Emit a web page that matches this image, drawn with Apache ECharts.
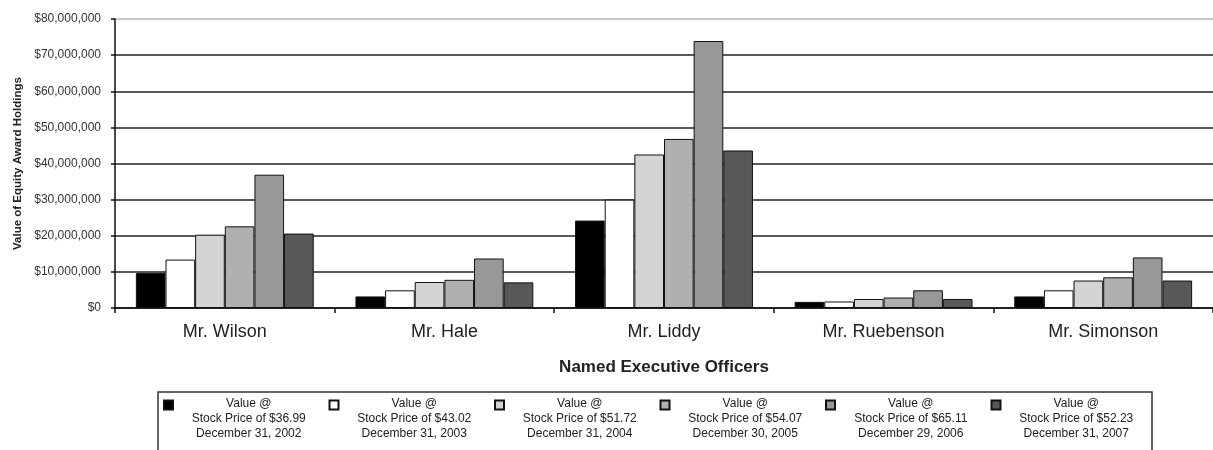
<!DOCTYPE html>
<html>
<head>
<meta charset="utf-8">
<script src="https://cdn.jsdelivr.net/npm/echarts@6/dist/echarts.min.js"></script>
<style>
html,body{margin:0;padding:0;background:#fff;}
#chart{width:1213px;height:450px;}
</style>
</head>
<body>
<div id="chart"></div>
<script>
var categories = ['Mr. Wilson', 'Mr. Hale', 'Mr. Liddy', 'Mr. Ruebenson', 'Mr. Simonson'];
var seriesNames = [
  'Value @\nStock Price of $36.99\nDecember 31, 2002',
  'Value @\nStock Price of $43.02\nDecember 31, 2003',
  'Value @\nStock Price of $51.72\nDecember 31, 2004',
  'Value @\nStock Price of $54.07\nDecember 30, 2005',
  'Value @\nStock Price of $65.11\nDecember 29, 2006',
  'Value @\nStock Price of $52.23\nDecember 31, 2007'
];
var v2002 = [9700000, 3200000, 24200000, 1700000, 3200000];
var v2003 = [13400000, 4900000, 30000000, 1800000, 4900000];
var v2004 = [20300000, 7200000, 42500000, 2500000, 7600000];
var v2005 = [22600000, 7800000, 46800000, 2900000, 8500000];
var v2006 = [36900000, 13700000, 73900000, 4900000, 14000000];
var v2007 = [20600000, 7100000, 43600000, 2500000, 7600000];
var yTicks = [0, 10000000, 20000000, 30000000, 40000000, 50000000, 60000000, 70000000, 80000000];

var allValues = [v2002, v2003, v2004, v2005, v2006, v2007];
var colors = ['#000000', '#ffffff', '#d4d4d4', '#b0b0b0', '#989898', '#585858'];

var chart = echarts.init(document.getElementById('chart'));
var series = allValues.map(function (vals, i) {
  return {
    name: seriesNames[i],
    type: 'bar',
    data: vals,
    barGap: '0%',
    barCategoryGap: '19%',
    itemStyle: { color: colors[i], borderColor: '#111', borderWidth: 1 },
    emphasis: { disabled: true }
  };
});

var gridColors = yTicks.map(function (t, i) { return i === yTicks.length - 1 ? '#b5b5b5' : '#222'; });

chart.setOption({
  animation: false,
  textStyle: { fontFamily: 'Liberation Sans, Arial, sans-serif' },
  grid: { left: 115, top: 19, height: 289, width: 1110 },
  legend: {
    left: 158,
    top: 392,
    orient: 'horizontal',
    padding: [4, 5, 14, 5],
    borderColor: '#333',
    borderWidth: 1.5,
    itemWidth: 9,
    itemHeight: 36,
    itemGap: 9,
    icon: 'path://M0,0H10V10H0Z M10,40',
    selectedMode: false,
    data: seriesNames,
    formatter: function (name) {
      return name.split('\n').map(function (l) { return '{c|' + l + '}'; }).join('\n');
    },
    textStyle: {
      color: '#222',
      fontSize: 12,
      lineHeight: 15,
      rich: { c: { width: 141.5, align: 'center', fontSize: 12, lineHeight: 15, color: '#222' } }
    }
  },
  xAxis: {
    type: 'category',
    data: categories,
    name: 'Named Executive Officers',
    nameLocation: 'middle',
    nameGap: 51,
    nameTextStyle: { fontSize: 17, fontWeight: 'bold', color: '#222' },
    axisLine: { lineStyle: { color: '#111', width: 1.5 } },
    axisTick: { show: true, length: 5, lineStyle: { color: '#111', width: 1.5 } },
    axisLabel: { fontSize: 18, color: '#222', margin: 15 }
  },
  yAxis: {
    type: 'value',
    min: 0,
    max: 80000000,
    interval: 10000000,
    name: 'Value of Equity Award Holdings',
    nameLocation: 'middle',
    nameGap: 91,
    nameTextStyle: { fontSize: 11.5, fontWeight: 'bold', color: '#222' },
    axisLine: { show: true, lineStyle: { color: '#111', width: 1.5 } },
    axisTick: { show: true, length: 4, lineStyle: { color: '#111', width: 1.5 } },
    axisLabel: {
      fontSize: 12,
      color: '#333',
      margin: 14,
      formatter: function (v) { return '$' + v.toLocaleString('en-US'); }
    },
    splitLine: { show: true, lineStyle: { color: gridColors, width: 1.5 } }
  },
  series: series
});
</script>
</body>
</html>
